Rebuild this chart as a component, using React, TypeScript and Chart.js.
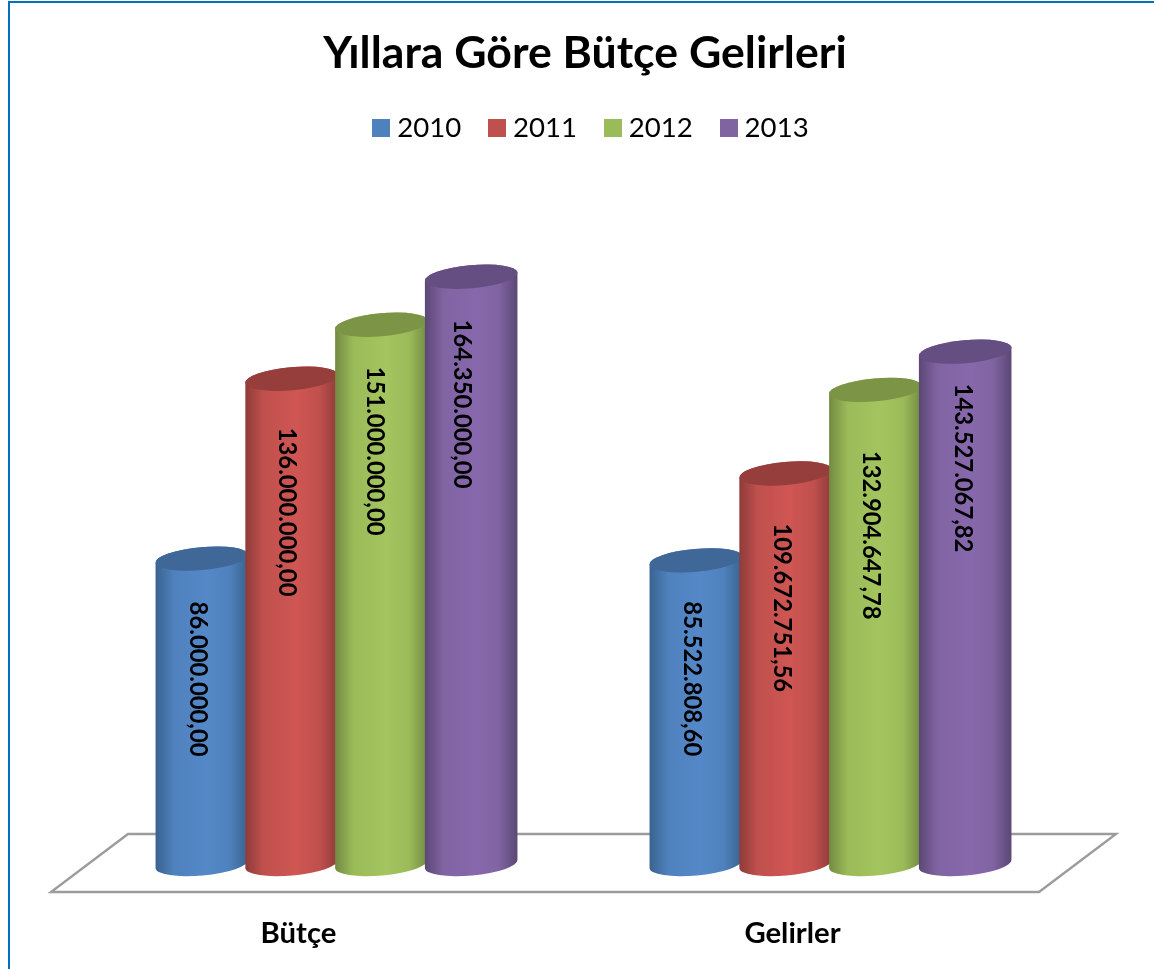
import React, { useEffect, useRef } from "react";
import { Chart, registerables } from "chart.js";

Chart.register(...registerables);

const categories = ["Bütçe", "Gelirler"];
const years = ["2010", "2011", "2012", "2013"];
const values2010 = [86000000, 85522808.6];
const values2011 = [136000000, 109672751.56];
const values2012 = [151000000, 132904647.78];
const values2013 = [164350000, 143527067.82];
const seriesValues = [values2010, values2011, values2012, values2013];

const baseColors = ["#4F81BD", "#C0504D", "#9BBB59", "#8064A2"];
const edgeColors = ["#39628F", "#8E3B39", "#728A42", "#5B4775"];
const lightColors = ["#5488C8", "#CF5653", "#A3C45E", "#8768AC"];
const capColors = ["#3F6797", "#953E3C", "#7B9446", "#654F82"];

// Style only: label nudges in pixels from the top/centre of each cylinder.
const labelStart = [
  [43, 41],
  [49, 50],
  [42, 61],
  [43, 32],
];
const labelShift = [
  [-4.5, -4.5],
  [-4.5, -3.5],
  [-6.5, -4.5],
  [-9.5, -2.5],
];

const FONT = "Lato, Carlito, Calibri, sans-serif";

const formatValue = (v: number) =>
  v.toLocaleString("tr-TR", { minimumFractionDigits: 2, maximumFractionDigits: 2 });

const boxImage = (color: string) => {
  const c = document.createElement("canvas");
  c.width = 18;
  c.height = 18;
  const g = c.getContext("2d")!;
  g.fillStyle = color;
  g.fillRect(0, 0, 18, 18);
  return c;
};

const ROT = -0.09;
const RY = 11.5;

const cylinderPlugin = {
  id: "cylinders",
  afterLayout(chart: any) {
    if (chart.legend) {
      chart.legend.left += 10.5;
      chart.legend.right += 10.5;
    }
    if (chart.titleBlock) {
      chart.titleBlock.left += 1.5;
      chart.titleBlock.right += 1.5;
    }
  },
  beforeDraw(chart: any) {
    const { ctx, width, height } = chart;
    ctx.save();
    ctx.fillStyle = "#FFFFFF";
    ctx.fillRect(0, 0, width, height);
    ctx.fillStyle = "#0070C0";
    ctx.fillRect(8, 1, 2, height - 1);
    ctx.fillRect(8, 1, width - 8, 2);
    ctx.restore();
  },
  beforeDatasetsDraw(chart: any) {
    const { ctx, chartArea: a } = chart;
    const skew = 38.5;
    ctx.save();
    ctx.strokeStyle = "#9C9C9C";
    ctx.lineWidth = 2.4;
    ctx.lineJoin = "miter";
    ctx.beginPath();
    ctx.moveTo(a.left - skew, a.bottom + 24);
    ctx.lineTo(a.right - skew, a.bottom + 24);
    ctx.lineTo(a.right + skew, a.bottom - 34);
    ctx.lineTo(a.left + skew, a.bottom - 34);
    ctx.closePath();
    ctx.stroke();
    ctx.restore();
  },
  beforeDatasetDraw() {
    return false;
  },
  afterDatasetsDraw(chart: any) {
    const { ctx } = chart;
    chart.data.datasets.forEach((ds: any, i: number) => {
      const meta = chart.getDatasetMeta(i);
      meta.data.forEach((bar: any, j: number) => {
        const { x, y, base, width } = bar.getProps(["x", "y", "base", "width"], true);
        const rx = width / 2;
        const bottom = base - 4;
        ctx.save();
        const g = ctx.createLinearGradient(x - rx, 0, x + rx, 0);
        g.addColorStop(0, edgeColors[i]);
        g.addColorStop(0.2, baseColors[i]);
        g.addColorStop(0.55, lightColors[i]);
        g.addColorStop(0.8, baseColors[i]);
        g.addColorStop(1, edgeColors[i]);
        ctx.fillStyle = g;
        ctx.beginPath();
        ctx.ellipse(x, bottom, rx, RY, ROT, Math.PI, 0, true);
        ctx.ellipse(x, y, rx, RY, ROT, 0, Math.PI, true);
        ctx.closePath();
        ctx.fill();
        ctx.fillStyle = capColors[i];
        ctx.beginPath();
        ctx.ellipse(x, y, rx, RY, ROT, 0, Math.PI * 2);
        ctx.fill();
        ctx.restore();
      });
    });
    chart.data.datasets.forEach((ds: any, i: number) => {
      const meta = chart.getDatasetMeta(i);
      meta.data.forEach((bar: any, j: number) => {
        const { x, y } = bar.getProps(["x", "y"], true);
        ctx.save();
        ctx.translate(x + labelShift[i][j], y + labelStart[i][j]);
        ctx.rotate(Math.PI / 2);
        ctx.font = `bold 23.8px ${FONT}`;
        ctx.fillStyle = "#000000";
        ctx.textAlign = "left";
        ctx.textBaseline = "middle";
        ctx.fillText(formatValue(ds.data[j]), 0, 0);
        ctx.restore();
      });
    });
  },
};

export default function App() {
  const ref = useRef<HTMLCanvasElement>(null);
  useEffect(() => {
    document.body.style.margin = "0";
    const chart = new Chart(ref.current!, {
      type: "bar",
      data: {
        labels: categories,
        datasets: years.map((label, i) => ({
          label,
          data: seriesValues[i],
          backgroundColor: baseColors[i],
          categoryPercentage: 0.727,
          barPercentage: 1.035,
        })),
      },
      options: {
        responsive: false,
        animation: false,
        layout: { padding: { left: 89.5, right: 76.5, top: 0, bottom: 20 } },
        plugins: {
          tooltip: { enabled: false },
          title: {
            display: true,
            text: "Yıllara Göre Bütçe Gelirleri",
            color: "#000000",
            font: { family: FONT, size: 44.6, weight: "bold" },
            padding: { top: 27, bottom: 0 },
          },
          legend: {
            position: "top",
            labels: {
              usePointStyle: true,
              pointStyleWidth: 4,
              padding: 34,
              color: "#000000",
              font: { family: FONT, size: 27.6 },
              generateLabels(c: any) {
                return Chart.defaults.plugins.legend.labels
                  .generateLabels(c)
                  .map((it: any) => ({ ...it, pointStyle: boxImage(it.fillStyle) }));
              },
            },
          },
        },
        scales: {
          x: {
            grid: { display: false },
            border: { display: false },
            afterFit(scale: any) {
              scale.height = 81;
            },
            ticks: {
              color: "#000000",
              padding: 40,
              labelOffset: -38,
              maxRotation: 0,
              font: { family: FONT, size: 29.3, weight: "bold" },
            },
          },
          y: { display: false, min: 0, max: 199000000 },
        },
      },
      plugins: [cylinderPlugin],
    } as any);
    return () => chart.destroy();
  }, []);
  return <canvas ref={ref} width={1154} height={969} style={{ display: "block" }} />;
}
